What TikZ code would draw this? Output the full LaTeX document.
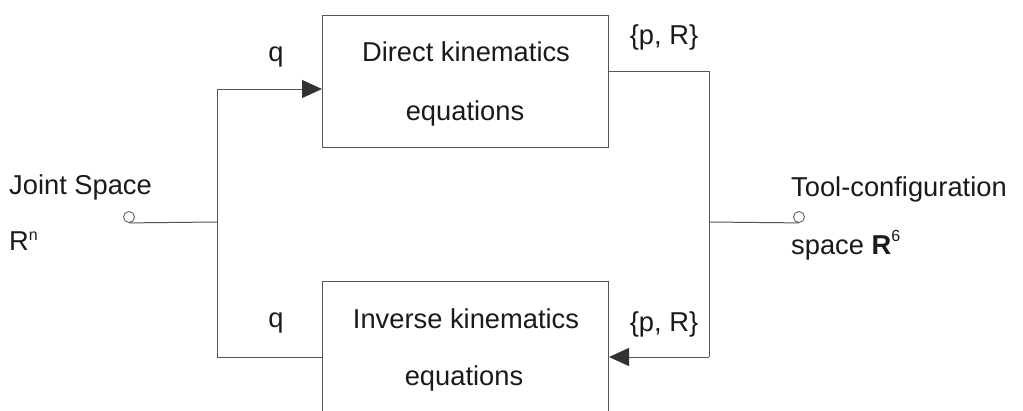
\documentclass[tikz,border=0pt]{standalone}
\usepackage{fontspec}
\setmainfont{Liberation Sans}
\usetikzlibrary{arrows.meta}
\definecolor{linec}{HTML}{555555}
\definecolor{textc}{HTML}{1A1A1A}
\definecolor{arrc}{HTML}{333333}
\begin{document}
\begin{tikzpicture}[x=1pt,y=-1pt,
  box/.style={draw=linec, line width=1pt, minimum width=286pt, minimum height=132pt, inner sep=0pt, anchor=north west},
  wire/.style={draw=linec, line width=1pt},
  arr/.style={wire, -{Triangle[length=20pt,width=18pt,color=arrc]}},
  lbl/.style={font=\fontsize{27.3}{30}\selectfont, text=textc, inner sep=0pt, anchor=base},
  port/.style={circle, draw=linec, line width=0.8pt, minimum size=11pt, inner sep=0pt}]
\useasboundingbox (0,0) rectangle (1023,410);
\clip (0,0) rectangle (1023,410);
\fill[white] (0,0) rectangle (1023,410);
% boxes
\node[box] (dk) at (322,15) {};
\node[box] (ik) at (322,281) {};
% box texts
\node[lbl] (dk1) at (466,61) {Direct kinematics};
\node[lbl] (dk2) at (465,120) {equations};
\node[lbl] (ik1) at (466,328) {Inverse kinematics};
\node[lbl] (ik2) at (464,385) {equations};
% signal labels
\node[lbl] (q1) at (276,61) {q};
\node[lbl] (q2) at (276,327) {q};
\node[lbl] (pr1) at (664,44) {\{p, R\}};
\node[lbl] (pr2) at (664,331) {\{p, R\}};
% side labels
\node[lbl, anchor=base west] (js) at (9,194) {Joint Space};
\node[lbl, anchor=base west] (rn) at (9,250) {R\raisebox{10pt}{\fontsize{16}{16}\selectfont n}};
\node[lbl, anchor=base west] (tc) at (791,196) {Tool-configuration};
\node[lbl, anchor=base west] (sp) at (791,254) {space \textbf{R}\raisebox{13pt}{\fontsize{16}{16}\selectfont 6}};
% ports
\node[port] (pin) at (129,217) {};
\node[port] (pout) at (799,217) {};
% junctions
\coordinate (jl) at (217,222);
\coordinate (jr) at (709,222);
\coordinate (lt) at (217,89);
\coordinate (lb) at (217,357);
\coordinate (rt) at (709,71);
\coordinate (rb) at (709,357);
% connectors
\draw[wire] (pin.south) -- (jl);
\draw[wire] (jr) -- (pout.south);
\draw[arr] (lt) -- (lt -| dk.west);
\draw[wire] (lt) -- (lb) -- (lb -| ik.west);
\draw[wire] (rt -| dk.east) -- (rt) -- (rb);
\draw[arr] (rb) -- (rb -| ik.east);
\end{tikzpicture}
\end{document}
